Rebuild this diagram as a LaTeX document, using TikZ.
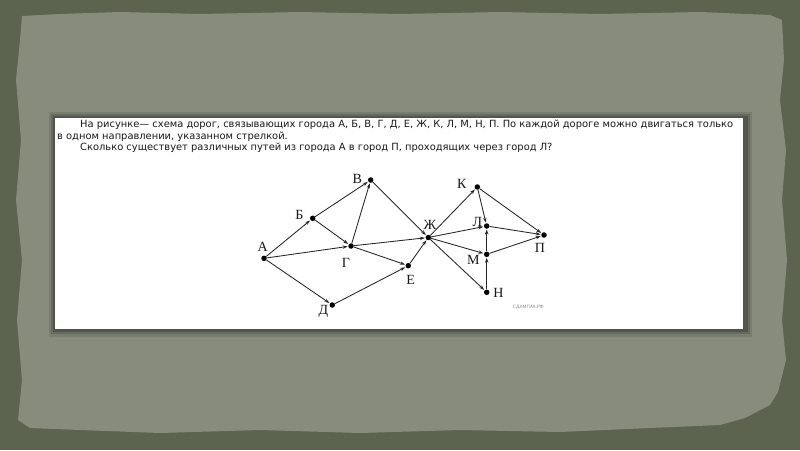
\documentclass[tikz,border=0pt]{standalone}
\usepackage{fontspec}
\setmainfont{Liberation Serif}
\newfontfamily\txtfont{DejaVu Sans}
\usetikzlibrary{arrows.meta}
\definecolor{outerbg}{HTML}{5C644F}
\definecolor{paper}{HTML}{878C7C}
\tikzset{
  city/.style={circle,fill=black,inner sep=0pt,minimum size=5.5pt},
  lbl/.style={font=\fontsize{14}{14}\selectfont,inner sep=0pt,text=black!90},
  road/.style={draw=black!85,line width=0.85pt,-{Stealth[length=5pt,width=3.4pt]},shorten >=0.5pt},
  txt/.style={font=\txtfont\fontsize{9.9}{11}\selectfont,inner sep=0pt,anchor=base west,text=black!90}
}
\begin{document}
\begin{tikzpicture}[x=1pt,y=-1pt]
\useasboundingbox (0,0) rectangle (800,450);
\fill[outerbg] (0,0) rectangle (800,450);
% torn paper
\fill[paper] (22,16) -- (60,14) -- (120,12) -- (200,14) -- (300,12) -- (400,14) -- (500,12) -- (600,14) -- (700,12) -- (770,15) -- (782,20)
  -- (784,60) -- (780,100) -- (786,150) -- (782,200) -- (787,260) -- (782,320) -- (786,360) -- (778,392) -- (770,405) -- (745,418) -- (720,425)
  -- (650,428) -- (560,432) -- (460,430) -- (360,433) -- (260,430) -- (160,433) -- (80,430) -- (30,428) -- (18,420)
  -- (22,380) -- (17,320) -- (22,260) -- (16,200) -- (21,140) -- (16,80) -- (20,40) -- cycle;
% card shadow
\fill[black,opacity=0.10] (49,112) rectangle (752,337);
\fill[black,opacity=0.14] (51,114) rectangle (750,334);
\fill[black,opacity=0.2] (53,116) rectangle (748,332);
\fill[white] (55,118) rectangle (743,329);
% text
\node[txt] (t1) at (80,127.5) {На рисунке— схема дорог, связывающих города А, Б, В, Г, Д, Е, Ж, К, Л, М, Н, П. По каждой дороге можно двигаться только};
\node[txt] (t2) at (57,139.2) {в одном направлении, указанном стрелкой.};
\node[txt] (t3) at (80,150.9) {Сколько существует различных путей из города А в город П, проходящих через город Л?};
% cities
\node[city] (A) at (264,258.3) {};
\node[city] (B) at (312.7,218.3) {};
\node[city] (V) at (370.7,180) {};
\node[city] (G) at (351,246) {};
\node[city] (E) at (408.3,265.7) {};
\node[city] (D) at (332.3,305) {};
\node[city] (Zh) at (428.3,237.5) {};
\node[city] (K) at (477.3,187) {};
\node[city] (L) at (486.7,226) {};
\node[city] (M) at (486.7,254.3) {};
\node[city] (N) at (486.7,292.3) {};
\node[city] (P) at (544,235) {};
% labels
\node[lbl] (lA) at (262.7,246.7) {А};
\node[lbl] (lB) at (299.3,215) {Б};
\node[lbl] (lV) at (357.3,179) {В};
\node[lbl] (lG) at (346,263.3) {Г};
\node[lbl] (lE) at (410.7,280) {Е};
\node[lbl] (lD) at (323.3,311) {Д};
\node[lbl] (lZh) at (430,225) {Ж};
\node[lbl] (lK) at (461.7,184.3) {К};
\node[lbl] (lL) at (477.3,221.7) {Л};
\node[lbl] (lM) at (473.3,260) {М};
\node[lbl] (lN) at (498.3,293.3) {Н};
\node[lbl] (lP) at (540,248.3) {П};
\node[font=\txtfont\fontsize{4.5}{5}\selectfont,text=black!45,inner sep=0pt] (wm) at (528.3,306.7) {СДАМГИА.РФ};
% roads
\draw[road] (A) -- (B);
\draw[road] (B) -- (V);
\draw[road] (B) -- (G);
\draw[road] (A) -- (G);
\draw[road] (G) -- (V);
\draw[road] (V) -- (Zh);
\draw[road] (G) -- (Zh);
\draw[road] (G) -- (E);
\draw[road] (A) -- (D);
\draw[road] (D) -- (E);
\draw[road] (E) -- (Zh);
\draw[road] (Zh) -- (K);
\draw[road] (Zh) -- (L);
\draw[road] (Zh) -- (M);
\draw[road] (Zh) -- (N);
\draw[road] (K) -- (L);
\draw[road] (K) -- (P);
\draw[road] (L) -- (P);
\draw[road] (M) -- (P);
\draw[road] (M) -- (L);
\draw[road] (N) -- (M);
\end{tikzpicture}
\end{document}
